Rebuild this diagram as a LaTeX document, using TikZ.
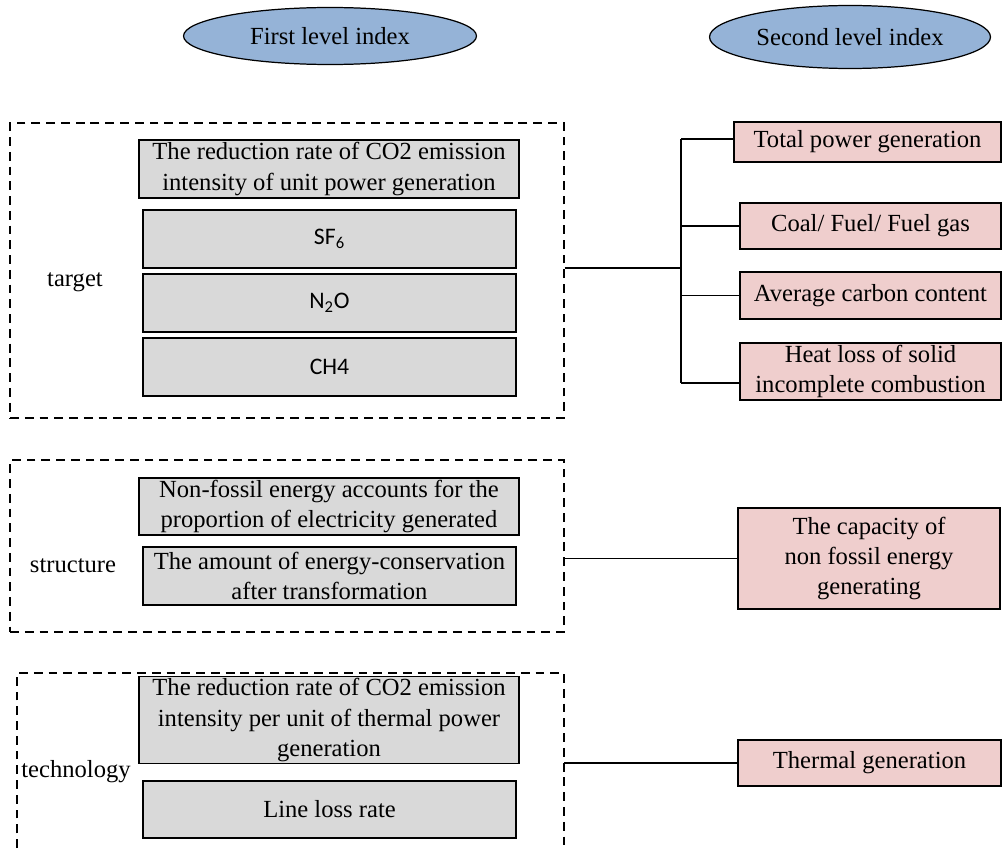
\documentclass[tikz,border=0pt]{standalone}
\usepackage{fontspec}
\setmainfont{Liberation Serif}
\newfontfamily\gasfont{Carlito}
\usetikzlibrary{positioning, shapes.geometric}

\definecolor{idxblue}{HTML}{95B3D7}
\definecolor{boxgrey}{HTML}{D9D9D9}
\definecolor{boxpink}{RGB}{239,206,205}

\begin{document}
\begin{tikzpicture}[
    x=0.02cm, y=-0.02cm,
    font=\fontsize{14}{17.2}\selectfont,
    idx/.style={draw, ellipse, fill=idxblue, line width=0.7pt, inner sep=0pt},
    grp/.style={draw, dash pattern=on 5pt off 3.4pt, line width=0.8pt},
    first/.style={draw, fill=boxgrey, line width=0.8pt, align=center, inner sep=1pt},
    second/.style={draw, fill=boxpink, line width=0.8pt, align=center, inner sep=1pt},
    gas/.style={first, font=\gasfont\fontsize{13.5}{16}\selectfont},
    link/.style={line width=0.8pt}]
    \useasboundingbox (0,0) rectangle (1003,848);
    % headers
    \node[idx, minimum width=5.86cm, minimum height=1.14cm] (firstidx)  at (330,36) {First level index};
    \node[idx, minimum width=5.62cm, minimum height=1.26cm] (secondidx) at (850,37) {Second level index};
    % target group
    \node[grp, minimum width=11.08cm, minimum height=5.9cm] (target) at (287,270.5) {};
    \node (targetlbl) at (75,282) {target};
    \node[first, minimum width=7.6cm, minimum height=1.16cm]  (unitrate) at (329,169) {The reduction rate of CO2 emission\\intensity of unit power generation};
    \node[gas, minimum width=7.46cm, minimum height=1.16cm] (sf6) at (329.5,239) {SF\textsubscript{6}};
    \node[gas, minimum width=7.46cm, minimum height=1.16cm] (n2o) at (329.5,303) {N\textsubscript{2}O};
    \node[gas, minimum width=7.46cm, minimum height=1.16cm] (ch4) at (329.5,367) {CH4};
    \node[second, minimum width=5.34cm, minimum height=0.8cm]  (total)   at (867.5,142) {Total power generation};
    \node[second, minimum width=5.22cm, minimum height=0.92cm] (coal)    at (870.5,226) {Coal/ Fuel/ Fuel gas};
    \node[second, minimum width=5.22cm, minimum height=0.94cm] (carbon)  at (870.5,295.5) {Average carbon content};
    \node[second, minimum width=5.22cm, minimum height=1.14cm] (heatloss) at (870.5,371.5) {Heat loss of solid\\incomplete combustion};
    \coordinate (hub) at (681,268);
    \coordinate (br1) at (681,139);
    \coordinate (br4) at (681,383);
    \draw[link] (target.east |- hub) -- (hub);
    \draw[link] (br1) -- (br4);
    \draw[link] (br1) -- (br1 -| total.west);
    \draw[link] (hub |- coal.west) -- (coal.west);
    \draw[link] (hub |- carbon.west) -- (carbon.west);
    \draw[link] (br4) -- (br4 -| heatloss.west);
    % structure group
    \node[grp, minimum width=11.08cm, minimum height=3.44cm] (structure) at (287,546) {};
    \node (structurelbl) at (73,566) {structure};
    \node[first, minimum width=7.6cm, minimum height=1.14cm]  (nonfossil) at (329,506.5) {Non-fossil energy accounts for the\\proportion of electricity generated};
    \node[first, minimum width=7.46cm, minimum height=1.16cm] (conserve)  at (329.5,576) {The amount of energy-conservation\\after transformation};
    \node[second, minimum width=5.24cm, minimum height=2.02cm] (capacity) at (869,558.5) {The capacity of\\non fossil energy\\generating};
    \draw[link] (capacity.west -| structure.east) -- (capacity.west);
    % technology group
    \draw[grp] (17,848) |- (564,673) -- (564,848);
    \coordinate (techR) at (564,763);
    \node (techlbl) at (76,772) {technology};
    \node[first, minimum width=7.6cm, minimum height=1.72cm]  (thermrate) at (329,720) {The reduction rate of CO2 emission\\intensity per unit of thermal power\\generation};
    \node[first, minimum width=7.46cm, minimum height=1.14cm] (lineloss)  at (329.5,809.5) {Line loss rate};
    \node[second, minimum width=5.26cm, minimum height=0.92cm] (thermal) at (869.5,763) {Thermal generation};
    \draw[link] (techR) -- (thermal.west);
\end{tikzpicture}
\end{document}
